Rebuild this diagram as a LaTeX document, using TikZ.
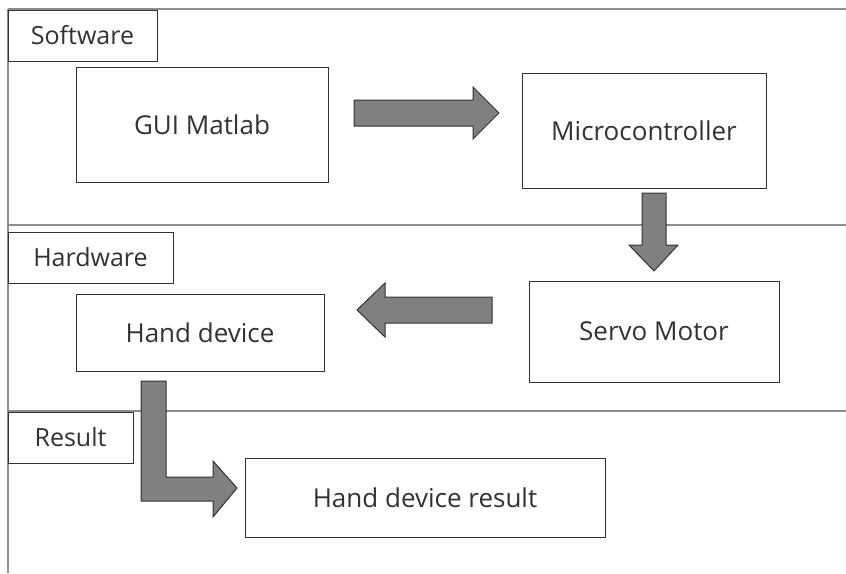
\documentclass[tikz,border=0pt]{standalone}
\usepackage{fontspec}
\setmainfont{Open Sans}
\begin{document}
\begin{tikzpicture}[x=1pt,y=-1pt,
  box/.style={draw=black!80, line width=0.9pt, fill=white, inner sep=0pt, font=\fontsize{26}{30}\selectfont, text=black!80},
  lbl/.style={draw=black!80, line width=0.9pt, fill=white, inner sep=0pt, font=\fontsize{25}{29}\selectfont, text=black!80},
  lane/.style={draw=black!45, line width=1.8pt},
  blk/.style={draw=black!80, line width=1pt, fill=black!50, line join=miter}]
\useasboundingbox (0,0) rectangle (846,573);
% lanes
\draw[lane] (8,9) -- (846,9);
\draw[lane] (8,9) -- (8,573);
\draw[lane] (8,225) -- (846,225);
\draw[lane] (8,411) -- (846,411);
% label boxes
\node[lbl, minimum width=149pt, minimum height=51pt] (sw) at (82.5,35.5) {Software};
\node[lbl, minimum width=165pt, minimum height=51pt] (hw) at (90.5,257.5) {Hardware};
\node[lbl, minimum width=125pt, minimum height=51pt] (rs) at (70.5,437.5) {Result};
% boxes
\node[box, minimum width=252pt, minimum height=115pt] (gui) at (202,124.5) {GUI Matlab};
\node[box, minimum width=244pt, minimum height=115pt] (mcu) at (644,130.5) {Microcontroller};
\node[box, minimum width=250pt, minimum height=101pt] (servo) at (654,331.5) {Servo Motor};
\node[box, minimum width=248pt, minimum height=77pt] (hand) at (200,332.5) {Hand device};
\node[box, minimum width=360pt, minimum height=79pt] (res) at (425,497.5) {Hand device result};
% block arrows
\draw[blk] (354,100) -- (473,100) -- (473,87) -- (499,113) -- (473,139) -- (473,126) -- (354,126) -- cycle;
\draw[blk] (642,193) -- (666,193) -- (666,245) -- (678,245) -- (654,271) -- (629,245) -- (642,245) -- cycle;
\draw[blk] (492,297) -- (385,297) -- (385,283) -- (357,310) -- (385,337) -- (385,323) -- (492,323) -- cycle;
\draw[blk] (141,381) -- (166,381) -- (166,477) -- (213,477) -- (213,461) -- (237,488) -- (213,517) -- (213,501) -- (141,501) -- cycle;
\end{tikzpicture}
\end{document}
